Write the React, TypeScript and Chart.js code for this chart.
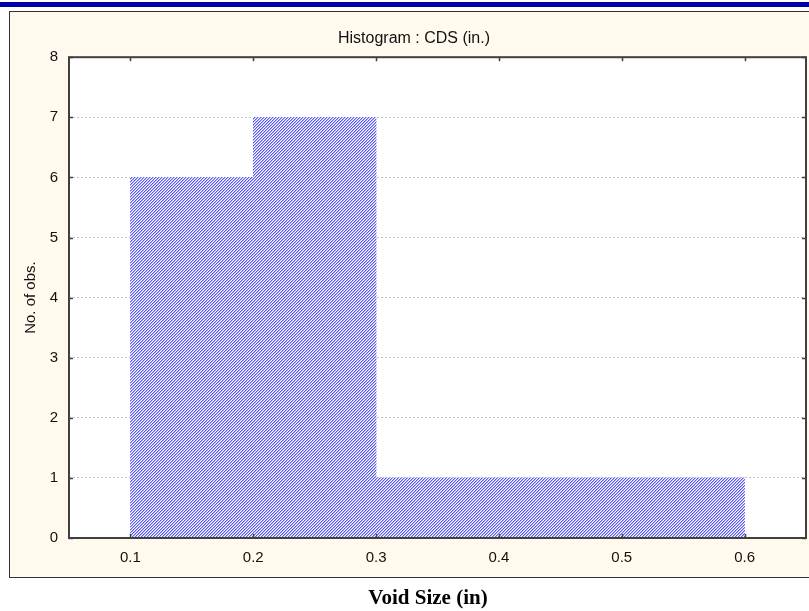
import React, { useEffect, useRef } from "react";
import { Chart, registerables } from "chart.js";

Chart.register(...registerables);

const binEdges = [0.1, 0.2, 0.3, 0.4, 0.5, 0.6];
const counts = [6, 7, 1, 1, 1];
const xTickValues = [0.1, 0.2, 0.3, 0.4, 0.5, 0.6];
const yTickValues = [0, 1, 2, 3, 4, 5, 6, 7, 8];
const chartTitle = "Histogram : CDS (in.)";
const yTitle = "No. of obs.";
const xTitle = "Void Size (in)";

function makePattern(): CanvasPattern | string {
  const c = document.createElement("canvas");
  c.width = 3;
  c.height = 3;
  const g = c.getContext("2d");
  if (!g) return "#a5a5f8";
  for (let x = 0; x < 3; x++) {
    for (let y = 0; y < 3; y++) {
      const k = (x + y) % 3;
      g.fillStyle = k === 2 ? "#5a5af2" : k === 0 ? "#b0b0f8" : "#ffffff";
      g.fillRect(x, y, 1, 1);
    }
  }
  const p = g.createPattern(c, "repeat");
  return p || "#a5a5f8";
}

const frameColor = "#404040";

const framePlugin = {
  id: "frame",
  beforeDraw(chart: any) {
    const { ctx, chartArea: a } = chart;
    ctx.save();
    ctx.fillStyle = "#ffffff";
    ctx.fillRect(a.left, a.top, a.right - a.left, a.bottom - a.top);
    ctx.restore();
  },
  afterDatasetsDraw(chart: any) {
    const { ctx, chartArea: a, scales } = chart;
    const xs = scales.x;
    const ys = scales.y;
    const tl = 4;
    ctx.save();
    ctx.strokeStyle = frameColor;
    ctx.lineWidth = 1.5;
    ctx.beginPath();
    xTickValues.forEach((v) => {
      const px = Math.round(xs.getPixelForValue(v)) + 0.5;
      ctx.moveTo(px, a.bottom);
      ctx.lineTo(px, a.bottom - tl);
      ctx.moveTo(px, a.top);
      ctx.lineTo(px, a.top + tl);
    });
    yTickValues.forEach((v) => {
      const py = Math.round(ys.getPixelForValue(v)) + 0.5;
      ctx.moveTo(a.left, py);
      ctx.lineTo(a.left + tl, py);
      ctx.moveTo(a.right, py);
      ctx.lineTo(a.right - tl, py);
    });
    ctx.stroke();
    ctx.lineWidth = 2;
    ctx.strokeRect(a.left, a.top, a.right - a.left, a.bottom - a.top);
    ctx.restore();
  },
};

export default function App() {
  const ref = useRef<HTMLCanvasElement | null>(null);

  useEffect(() => {
    if (!ref.current) return;
    const pattern = makePattern();
    const data = counts.map((c, i) => ({
      x: (binEdges[i] + binEdges[i + 1]) / 2,
      y: c,
    }));
    const font = { family: "'Liberation Sans', Arial, sans-serif", size: 15 };
    const chart = new Chart(ref.current, {
      type: "bar",
      data: {
        datasets: [
          {
            data,
            backgroundColor: pattern as any,
            borderWidth: 0,
            barPercentage: 1,
            categoryPercentage: 1,
          },
        ],
      },
      plugins: [framePlugin],
      options: {
        animation: false,
        responsive: false,
        devicePixelRatio: 1,
        layout: { padding: { top: 11, left: 22, right: 3, bottom: 33 } },
        plugins: {
          legend: { display: false },
          tooltip: { enabled: false },
          title: {
            display: true,
            text: chartTitle,
            color: "#111",
            font: { family: "'Liberation Sans', Arial, sans-serif", size: 16, weight: "normal" },
            padding: { top: 18, bottom: 9 },
          },
        },
        scales: {
          x: {
            type: "linear",
            min: 0.05,
            max: 0.65,
            offset: false,
            afterBuildTicks: (scale: any) => {
              scale.ticks = xTickValues.map((v) => ({ value: v }));
            },
            ticks: {
              color: "#111",
              font,
              padding: 11,
              maxRotation: 0,
              autoSkip: false,
              callback: (v: any) => Number(v).toFixed(1),
            },
            grid: { display: false, drawTicks: false },
            border: { display: false },
          },
          y: {
            type: "linear",
            min: 0,
            max: 8,
            afterBuildTicks: (scale: any) => {
              scale.ticks = yTickValues.map((v) => ({ value: v }));
            },
            afterFit: (scale: any) => {
              scale.width = 47;
            },
            ticks: { color: "#111", font, padding: 11, autoSkip: false },
            grid: { color: "#c4c4c4", lineWidth: 1, drawTicks: false },
            border: { display: false, dash: [2, 2] },
            title: {
              display: true,
              text: yTitle,
              color: "#111",
              font,
              padding: 0,
            },
          },
        },
      },
    } as any);
    return () => chart.destroy();
  }, []);

  return (
    <div
      style={{
        position: "fixed",
        left: 0,
        top: 0,
        width: 809,
        height: 611,
        overflow: "hidden",
        background: "#ffffff",
      }}
    >
      <div
        style={{
          position: "absolute",
          left: 0,
          top: 2,
          width: 809,
          height: 5,
          background: "#0000a8",
        }}
      />
      <div
        style={{
          position: "absolute",
          left: 9,
          top: 11,
          width: 830,
          height: 567,
          background: "#fff9ee",
          border: "1.5px solid #333333",
          boxSizing: "border-box",
        }}
      />
      <canvas
        ref={ref}
        width={809}
        height={611}
        style={{ position: "absolute", left: 0, top: 0, width: 809, height: 611 }}
      />
      <div
        style={{
          position: "absolute",
          left: 0,
          top: 585,
          width: 856,
          textAlign: "center",
          fontFamily: "'Liberation Serif', 'Times New Roman', serif",
          fontWeight: "bold",
          fontSize: 21,
          color: "#000",
          whiteSpace: "nowrap",
        }}
      >
        {xTitle}
      </div>
    </div>
  );
}
